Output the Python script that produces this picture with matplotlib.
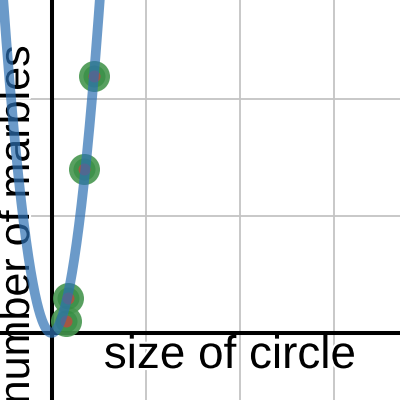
import numpy as np
import matplotlib
matplotlib.use("Agg")
import matplotlib.pyplot as plt
import matplotlib.patheffects as pe

# data
pts_x = [1.5, 1.8, 3.5, 4.5]
pts_y = [10, 30, 140, 220]
coef = 10.8          # number of marbles = coef * size^2
x_grid = [10, 20, 30]
y_grid = [100, 200]
x_label = "size of circle"
y_label = "number of marbles"

W, H = 400, 400
fig = plt.figure(figsize=(4, 4), dpi=100)
ax = fig.add_axes([0, 0, 1, 1])
ax.set_xlim(-5.48, 37.07)
ax.set_ylim(-57.3, 284.6)
ax.axis("off")

for gx in x_grid:
    ax.axvline(gx, color="#c4c4c4", lw=1.3, zorder=1)
for gy in y_grid:
    ax.axhline(gy, color="#c4c4c4", lw=1.3, zorder=1)

stroke = [pe.withStroke(linewidth=3, foreground="white")]
ax.text(230 / W, 1 - 356 / H, x_label, fontsize=33, family="Liberation Sans",
        ha="center", va="center", color="black", path_effects=stroke,
        zorder=2, transform=fig.transFigure, clip_on=False)
ax.text(18 / W, 1 - 225 / H, y_label, fontsize=31, family="Liberation Sans",
        rotation=90, ha="center", va="center", color="black",
        path_effects=stroke, zorder=2, transform=fig.transFigure, clip_on=False)

ax.axhline(0, color="black", lw=2.9, zorder=3)
ax.axvline(0, color="black", lw=2.9, zorder=3)

ax.scatter(pts_x, pts_y, s=(31 * 0.72) ** 2, color="#46964f", alpha=0.9,
           linewidths=0, zorder=4)
ax.scatter(pts_x, pts_y, s=(22 * 0.72) ** 2, color="#2f8a3d", alpha=0.6,
           linewidths=0, zorder=4)
ax.scatter(pts_x, pts_y, s=(12 * 0.72) ** 2, color="#c74440", alpha=0.75,
           linewidths=0, zorder=5)

xs = np.linspace(-6, 6, 400)
ax.plot(xs, coef * xs ** 2, color="#2d70b3", alpha=0.7, lw=7,
        solid_capstyle="round", zorder=6)

fig.savefig("out.png", dpi=100)
